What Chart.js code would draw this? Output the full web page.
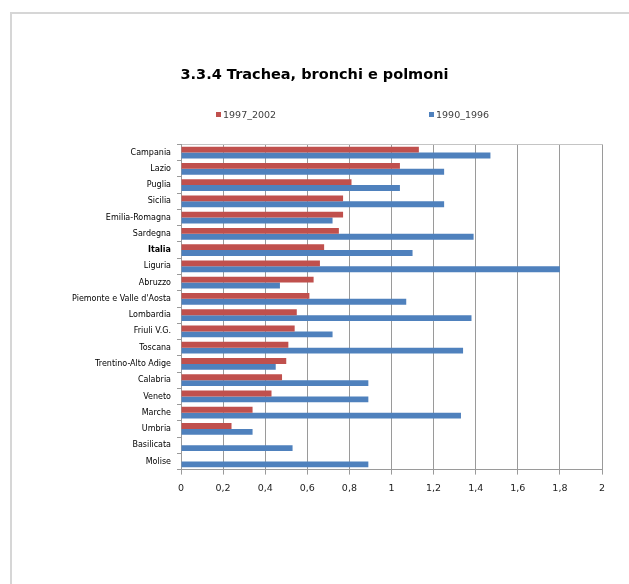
<!DOCTYPE html>
<html>
<head>
<meta charset="utf-8">
<script src="https://cdn.jsdelivr.net/npm/chart.js@4/dist/chart.umd.min.js"></script>
<style>
  html, body { margin: 0; padding: 0; background: #fff; }
  #frame { position: absolute; left: 10px; top: 12px; width: 640px; height: 600px;
           border-left: 2px solid #d6d6d6; border-top: 2px solid #d6d6d6; }
  #wrap { position: absolute; left: 0; top: 0; width: 629px; height: 584px; }
  #legend { position: absolute; top: 109px; left: 0; width: 629px; height: 14px;
            font-family: 'DejaVu Sans', sans-serif; font-size: 9.5px; color: #404040; }
  #legend span.item { position: absolute; top: 0; white-space: nowrap; }
  #legend span.box { display: inline-block; width: 5px; height: 5px; margin-right: 2px; vertical-align: 1px; }
</style>
</head>
<body>
<div id="frame"></div>
<div id="wrap"><canvas id="chart"></canvas></div>
<div id="legend"></div>
<script>
// dati
const regioni = ['Campania', 'Lazio', 'Puglia', 'Sicilia', 'Emilia-Romagna', 'Sardegna', 'Italia',
    'Liguria', 'Abruzzo', "Piemonte e Valle d'Aosta", 'Lombardia', 'Friuli V.G.', 'Toscana',
    'Trentino-Alto Adige', 'Calabria', 'Veneto', 'Marche', 'Umbria', 'Basilicata', 'Molise'];
const valori_1997_2002 = [1.13, 1.04, 0.81, 0.77, 0.77, 0.75, 0.68, 0.66, 0.63, 0.61,
    0.55, 0.54, 0.51, 0.50, 0.48, 0.43, 0.34, 0.24, 0, 0];
const valori_1990_1996 = [1.47, 1.25, 1.04, 1.25, 0.72, 1.39, 1.10, 1.80, 0.47, 1.07,
    1.38, 0.72, 1.34, 0.45, 0.89, 0.89, 1.33, 0.34, 0.53, 0.89];
const xTicks = [0, 0.2, 0.4, 0.6, 0.8, 1, 1.2, 1.4, 1.6, 1.8, 2];

Chart.defaults.font.family = "'DejaVu Sans', Verdana, sans-serif";
Chart.defaults.color = '#111';

const ctx = document.getElementById('chart').getContext('2d');
const chart = new Chart(ctx, {
    type: 'bar',
    data: {
        labels: regioni,
        datasets: [{
            label: '1997_2002',
            data: valori_1997_2002,
            backgroundColor: '#c0504d'
        }, {
            label: '1990_1996',
            data: valori_1990_1996,
            backgroundColor: '#4f81bd'
        }]
    },
    options: {
        indexAxis: 'y',
        responsive: true,
        maintainAspectRatio: false,
        animation: false,
        categoryPercentage: 0.72,
        barPercentage: 1,
        layout: { padding: { left: 27, right: 27, top: 67, bottom: 82 } },
        scales: {
            x: {
                min: 0,
                max: 2,
                afterBuildTicks: axis => { axis.ticks = xTicks.map(v => ({ value: v })); },
                ticks: {
                    padding: 8,
                    font: { size: 9.5 },
                    color: '#222',
                    callback: v => String(Number(v.toFixed(1))).replace('.', ',')
                },
                grid: { color: '#9a9a9a', tickLength: 5, tickColor: '#9a9a9a' },
                border: { color: '#9a9a9a' }
            },
            x2: {
                position: 'top',
                min: 0,
                max: 2,
                ticks: { display: false },
                grid: { display: false },
                border: { display: true, color: '#c4c4c4' }
            },
            y: {
                afterFit: axis => { axis.width = 154; },
                ticks: {
                    padding: 6,
                    color: '#000',
                    font: c => ({ size: 8, weight: regioni[c.index] === 'Italia' ? 'bold' : 'normal' })
                },
                grid: { drawOnChartArea: false, tickLength: 4, color: '#9a9a9a' },
                border: { color: '#9a9a9a' }
            }
        },
        plugins: {
            title: {
                display: true,
                text: '3.3.4 Trachea, bronchi e polmoni',
                color: '#000',
                font: { size: 14.5, weight: 'bold' },
                padding: { top: 0, bottom: 52 }
            },
            legend: { display: false },
            tooltip: { enabled: false }
        }
    }
});

// legenda in HTML (posizionata come nell'originale)
const legendPos = [216, 429];
const legendEl = document.getElementById('legend');
chart.data.datasets.forEach((ds, i) => {
    const item = document.createElement('span');
    item.className = 'item';
    item.style.left = legendPos[i] + 'px';
    const box = document.createElement('span');
    box.className = 'box';
    box.style.background = ds.backgroundColor;
    item.appendChild(box);
    item.appendChild(document.createTextNode(ds.label));
    legendEl.appendChild(item);
});
</script>
</body>
</html>
